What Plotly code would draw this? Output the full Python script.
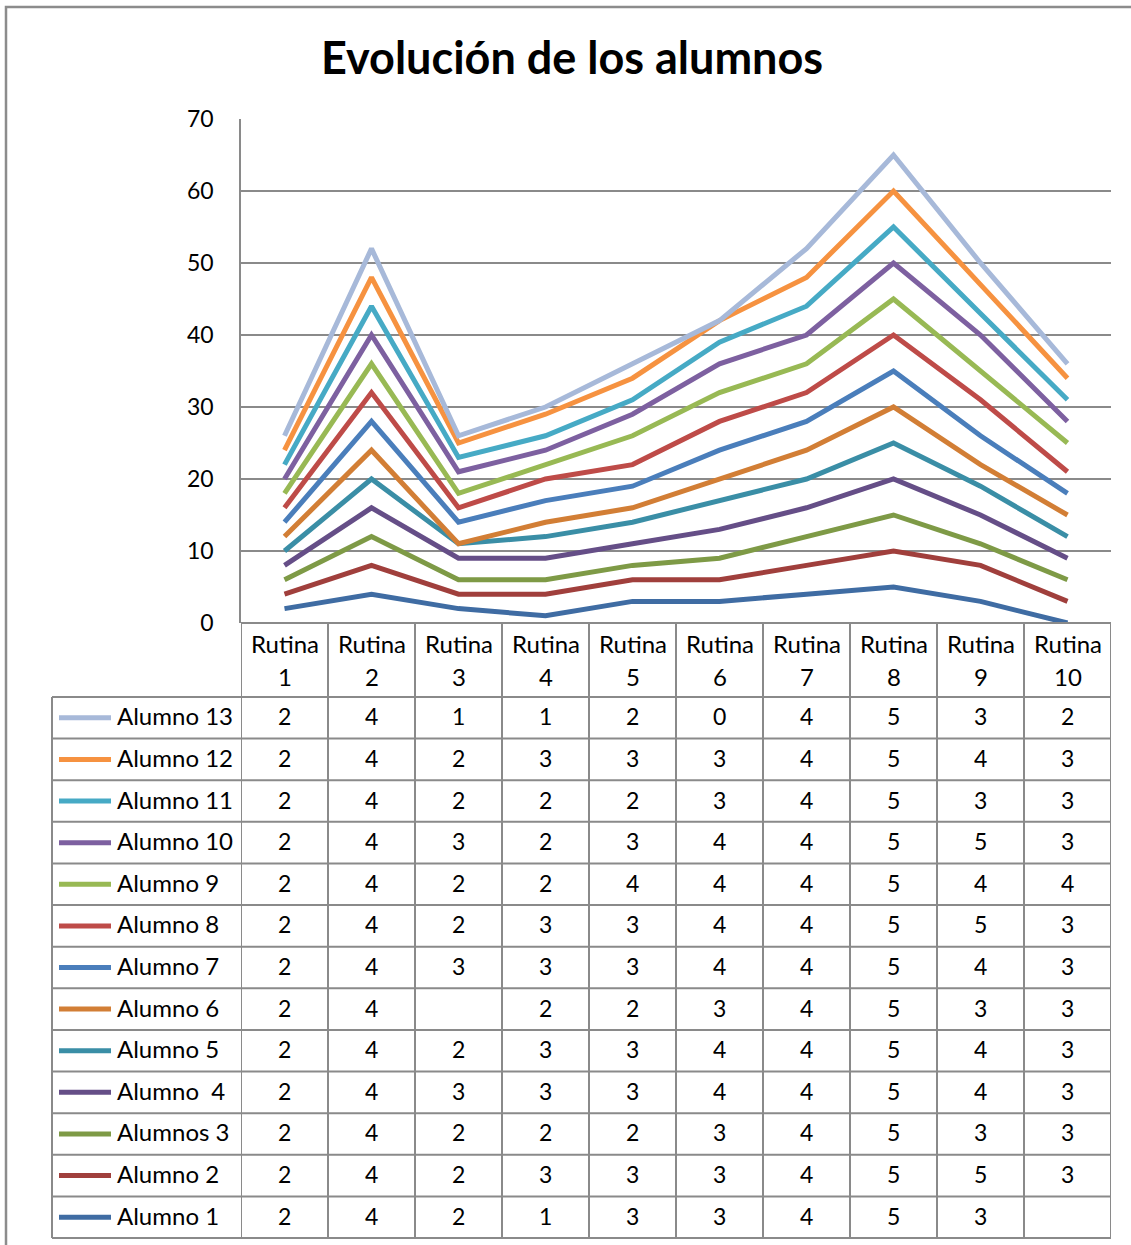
import plotly.graph_objects as go

# ---------------- data ----------------
rutinas = ["Rutina 1", "Rutina 2", "Rutina 3", "Rutina 4", "Rutina 5",
           "Rutina 6", "Rutina 7", "Rutina 8", "Rutina 9", "Rutina 10"]

alumno_1 = [2, 4, 2, 1, 3, 3, 4, 5, 3, None]
alumno_2 = [2, 4, 2, 3, 3, 3, 4, 5, 5, 3]
alumnos_3 = [2, 4, 2, 2, 2, 3, 4, 5, 3, 3]
alumno_4 = [2, 4, 3, 3, 3, 4, 4, 5, 4, 3]
alumno_5 = [2, 4, 2, 3, 3, 4, 4, 5, 4, 3]
alumno_6 = [2, 4, None, 2, 2, 3, 4, 5, 3, 3]
alumno_7 = [2, 4, 3, 3, 3, 4, 4, 5, 4, 3]
alumno_8 = [2, 4, 2, 3, 3, 4, 4, 5, 5, 3]
alumno_9 = [2, 4, 2, 2, 4, 4, 4, 5, 4, 4]
alumno_10 = [2, 4, 3, 2, 3, 4, 4, 5, 5, 3]
alumno_11 = [2, 4, 2, 2, 2, 3, 4, 5, 3, 3]
alumno_12 = [2, 4, 2, 3, 3, 3, 4, 5, 4, 3]
alumno_13 = [2, 4, 1, 1, 2, 0, 4, 5, 3, 2]

series_names = ["Alumno 1", "Alumno 2", "Alumnos 3", "Alumno  4", "Alumno 5",
                "Alumno 6", "Alumno 7", "Alumno 8", "Alumno 9", "Alumno 10",
                "Alumno 11", "Alumno 12", "Alumno 13"]
series_values = [alumno_1, alumno_2, alumnos_3, alumno_4, alumno_5, alumno_6,
                 alumno_7, alumno_8, alumno_9, alumno_10, alumno_11, alumno_12,
                 alumno_13]
series_colors = ["#3F6CA3", "#A03F3C", "#7E9A46", "#654E87", "#3A8EA6",
                 "#D27E35", "#4A7EBB", "#BE4B48", "#98B954", "#7D60A0",
                 "#46AAC5", "#F69240", "#A7B9D9"]

# ---------------- layout helpers (pixels -> paper) ----------------
W, H = 1131, 1245
PL, PR, PT, PB = 241, 1111, 119, 623


def px(x):
    return (x - PL) / (PR - PL)


def py(y):
    return (PB - y) / (PB - PT)


FONT = "Lato"
GRID = "#8A8A8A"
TXT = 24
NUM = 23
xs = list(range(len(rutinas)))

fig = go.Figure()
for name, vals, col in zip(series_names, series_values, series_colors):
    fig.add_trace(go.Scatter(
        x=xs, y=[0 if v is None else v for v in vals], name=name,
        mode="lines", stackgroup="one", fill="none",
        line=dict(color=col, width=5), showlegend=False,
    ))

shapes = []
annotations = []

# outer chart border
shapes.append(dict(type="rect", xref="paper", yref="paper",
                   x0=px(6), x1=px(1160), y0=py(7), y1=py(1290),
                   line=dict(color="#8C8C8C", width=2.5), layer="below"))

# table geometry
header_top, header_bot = 623, 697
row_h = (1238 - 697) / 13
row_edges = [header_bot + i * row_h for i in range(14)]
left_col = 52

# horizontal table lines
shapes.append(dict(type="line", xref="paper", yref="paper",
                   x0=px(PL), x1=px(PR), y0=py(header_top), y1=py(header_top),
                   line=dict(color=GRID, width=2)))
for yy in row_edges:
    shapes.append(dict(type="line", xref="paper", yref="paper",
                       x0=px(left_col), x1=px(PR), y0=py(yy), y1=py(yy),
                       line=dict(color=GRID, width=2)))
# vertical table lines (category boundaries)
for i in range(len(rutinas) + 1):
    shapes.append(dict(type="line", xref="x", yref="paper",
                       x0=i - 0.5, x1=i - 0.5, y0=py(header_top), y1=py(row_edges[-1]),
                       line=dict(color=GRID, width=2)))
shapes.append(dict(type="line", xref="paper", yref="paper",
                   x0=px(left_col), x1=px(left_col), y0=py(header_bot), y1=py(row_edges[-1]),
                   line=dict(color=GRID, width=2)))

# header labels
for i, r in enumerate(rutinas):
    word, num = r.split(" ")
    annotations.append(dict(x=i, y=py(643), xref="x", yref="paper", text=word,
                            showarrow=False, font=dict(family=FONT, size=TXT, color="#000"),
                            xanchor="center", yanchor="middle"))
    annotations.append(dict(x=i, y=py(676), xref="x", yref="paper", text=num,
                            showarrow=False, font=dict(family=FONT, size=TXT, color="#000"),
                            xanchor="center", yanchor="middle"))

# rows (top = last series)
for k, idx in enumerate(reversed(range(len(series_names)))):
    yc = row_edges[k] + row_h / 2
    shapes.append(dict(type="line", xref="paper", yref="paper",
                       x0=px(59), x1=px(111), y0=py(yc), y1=py(yc),
                       line=dict(color=series_colors[idx], width=5)))
    annotations.append(dict(x=px(115), y=py(yc - 2), xref="paper", yref="paper",
                            text=series_names[idx].replace("  ", "&nbsp; "),
                            showarrow=False, font=dict(family=FONT, size=TXT, color="#000"),
                            xanchor="left", yanchor="middle"))
    for i, v in enumerate(series_values[idx]):
        annotations.append(dict(x=i, y=py(yc - 1.5), xref="x", yref="paper",
                                text="" if v is None else str(v),
                                showarrow=False, font=dict(family=FONT, size=NUM, color="#000"),
                                xanchor="center", yanchor="middle"))

fig.update_layout(
    width=W, height=H,
    margin=dict(l=PL, r=W - PR, t=PT, b=H - PB, pad=0),
    paper_bgcolor="white", plot_bgcolor="white",
    title=dict(text="<b>Evolución de los alumnos</b>", x=572 / W, xanchor="center",
               xref="container", yref="container", y=1 - 58 / H, yanchor="middle",
               font=dict(family=FONT, size=45, color="#000")),
    xaxis=dict(range=[-0.5, len(rutinas) - 0.5], showgrid=False, showticklabels=False,
               zeroline=False, showline=False, fixedrange=True),
    yaxis=dict(range=[0, 70], dtick=10, showgrid=True, gridcolor=GRID, gridwidth=1.5,
               zeroline=False, showline=True, linecolor=GRID, linewidth=1.5,
               ticks="", ticklabelstandoff=21,
               tickfont=dict(family=FONT, size=NUM, color="#000")),
    shapes=shapes, annotations=annotations,
)

fig.write_html("out.html")
